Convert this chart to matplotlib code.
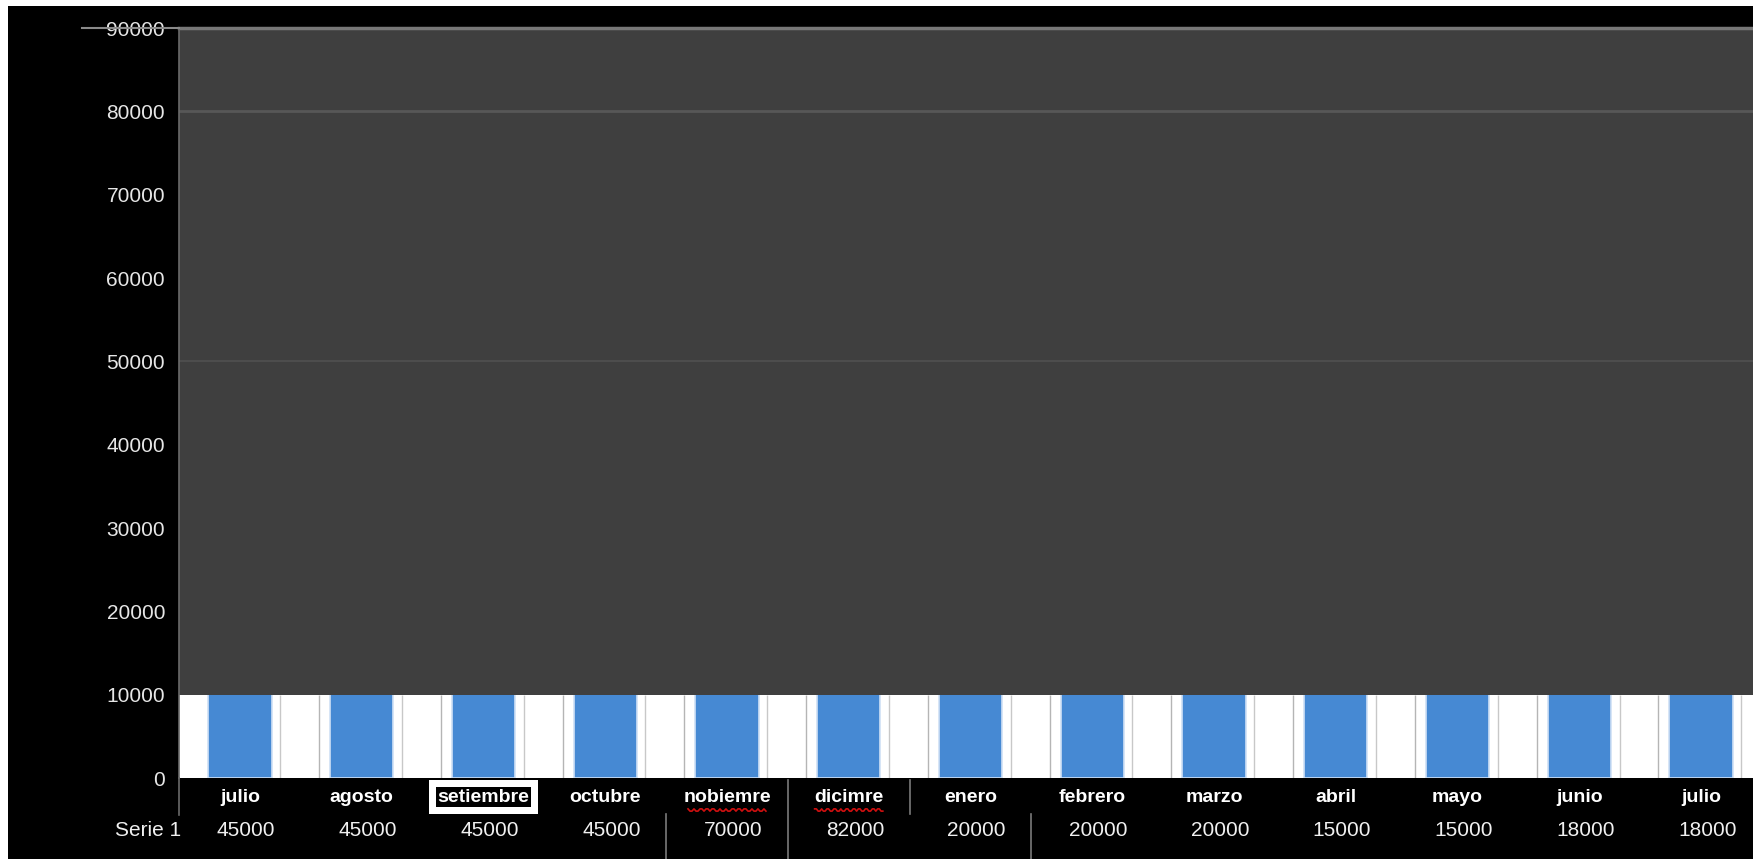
import matplotlib
matplotlib.use("Agg")
import matplotlib.pyplot as plt
import numpy as np
from matplotlib.patches import Rectangle
from matplotlib.lines import Line2D
import matplotlib.transforms as mtransforms

# ---- data ----
categories = ["julio", "agosto", "setiembre", "octubre", "nobiemre", "dicimre",
              "enero", "febrero", "marzo", "abril", "mayo", "junio", "julio"]
values = [45000, 45000, 45000, 45000, 70000, 82000,
          20000, 20000, 20000, 15000, 15000, 18000, 18000]
series_name = "Serie 1"
yticks = list(range(0, 90001, 10000))
visible_top = 10000  # the bars are only visible up to this level (covered above)

W, H = 1753, 859
fig = plt.figure(figsize=(W / 100, H / 100), dpi=100, facecolor="white")
plt.rcParams["font.family"] = ["Liberation Sans", "DejaVu Sans"]

# black background with thin white border on top/left
fig.patches.append(Rectangle((8 / W, 0), 1, 1 - 6 / H, transform=fig.transFigure,
                             facecolor="black", edgecolor="none", zorder=-10))

left_px, right_px, top_px, bottom_px = 179, 1762, 28, 778
ax = fig.add_axes([left_px / W, (H - bottom_px) / H,
                   (right_px - left_px) / W, (bottom_px - top_px) / H])
ax.set_facecolor("white")
ax.set_xlim(-0.5, len(categories) - 0.5)
ax.set_ylim(0, 90000)

x = np.arange(len(categories))
ax.bar(x, values, width=0.52, color="#4689D3", edgecolor="#cfe0f5", linewidth=1.2, zorder=2)

# thin separator lines in white region
ax.vlines(x + 0.65, 0, visible_top, color="#b5b5b5", lw=1, zorder=1)
ax.vlines(x + 0.33, 0, visible_top, color="#c8c8c8", lw=1, zorder=1)

# dark cover area above the visible band
ax.axhspan(visible_top, 90000, facecolor="#3f3f3f", edgecolor="none", zorder=3)
ax.axhline(80000, color="#575757", lw=2, zorder=4)
ax.axhline(50000, color="#4d4d4d", lw=1.5, zorder=4)
ax.axhline(90000, color="#777777", lw=2.5, zorder=4, clip_on=False)

for s in ["top", "right", "bottom"]:
    ax.spines[s].set_visible(False)
ax.spines["left"].set_color("#6a6a6a")
ax.spines["left"].set_linewidth(1.2)
ax.spines["left"].set_zorder(5)

ax.set_yticks(yticks)
ax.set_yticklabels([str(v) for v in yticks], color="#e6e6e6", fontsize=15)
ax.tick_params(axis="y", length=0, pad=10)
ax.set_xticks([])

# left tick line at 90000 extending into the black area
fig.lines.append(Line2D([82 / W, left_px / W], [(H - 28) / H] * 2,
                        transform=fig.transFigure, color="#8a8a8a", lw=1.5))
# spine continuation below 0
fig.lines.append(Line2D([left_px / W] * 2, [(H - 778) / H, (H - 815) / H],
                        transform=fig.transFigure, color="#6a6a6a", lw=1.2))

trans = mtransforms.blended_transform_factory(ax.transData, ax.transAxes)
ax_h = bottom_px - top_px
y_cat = (bottom_px - 797) / ax_h
y_val = (bottom_px - 831) / ax_h

for i, (c, v) in enumerate(zip(categories, values)):
    if c == "setiembre":
        ax.text(i, y_cat, c, transform=trans, ha="center", va="center", fontsize=14,
                fontweight="bold", color="white", clip_on=False, zorder=6,
                bbox=dict(boxstyle="square,pad=0.45", facecolor="white",
                          edgecolor="none"))
        ax.text(i, y_cat, c, transform=trans, ha="center", va="center", fontsize=14,
                fontweight="bold", color="white", clip_on=False, zorder=7,
                bbox=dict(boxstyle="square,pad=0.08", facecolor="black",
                          edgecolor="none"))
    else:
        ax.text(i, y_cat, c, transform=trans, ha="center", va="center", fontsize=14,
                fontweight="bold", color="white", clip_on=False)
    ax.text(i + 0.05, y_val, str(v), transform=trans, ha="center", va="center",
            fontsize=15, color="#f0f0f0", clip_on=False)

# red spell-check underline on misspelled labels
for i, c in enumerate(categories):
    if c in ("nobiemre", "dicimre"):
        half = 0.04 * len(c)
        xs = np.linspace(i - half, i + half, 40)
        ys = (bottom_px - 810) / ax_h + 0.0015 * np.sign(np.sin(xs * 120))
        ax.plot(xs, ys, transform=trans, color="#d01010", lw=1.2, clip_on=False)

ax.text(-0.75, y_val, series_name, transform=trans, ha="center", va="center",
        fontsize=15, color="#f0f0f0", clip_on=False)

# table separators
sep_specs = [(3.5, 814, 859), (4.5, 780, 859), (5.5, 780, 814), (6.5, 814, 859)]
for xs_, y0, y1 in sep_specs:
    ax.plot([xs_, xs_], [(bottom_px - y0) / ax_h, (bottom_px - y1) / ax_h],
            transform=trans, color="#7a7a7a", lw=1.2, clip_on=False)

fig.savefig("out.png", dpi=100, facecolor=fig.get_facecolor())
